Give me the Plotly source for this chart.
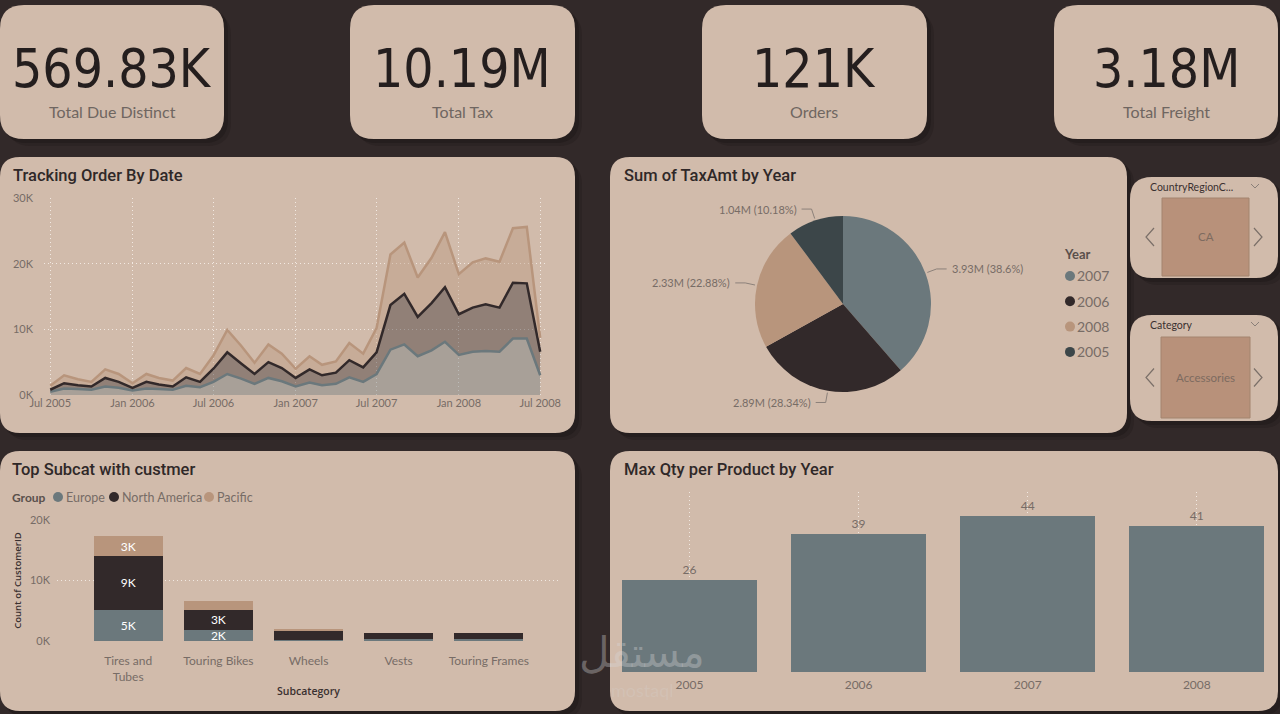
import math
import plotly.graph_objects as go
import pandas as pd

W, H = 1280, 714

# ---------------- data ----------------
kpi_values = ["569.83K", "10.19M", "121K", "3.18M"]
kpi_labels = ["Total Due Distinct", "Total Tax", "Orders", "Total Freight"]

months = pd.date_range("2005-07-01", "2008-07-01", freq="MS")
europe_k = [0.5, 1.0, 0.9, 0.8, 1.3, 1.1, 0.7, 1.0, 0.9, 0.8, 1.4, 1.2,
            2.0, 3.2, 2.5, 1.7, 2.6, 2.1, 1.3, 1.9, 1.5, 1.7, 2.7, 2.0,
            3.2, 6.9, 7.7, 5.9, 6.8, 8.1, 6.1, 6.6, 6.7, 6.6, 8.6, 8.6, 3.0]
north_america_k = [0.3, 0.8, 0.6, 0.5, 1.3, 0.9, 0.4, 1.0, 0.7, 0.5, 1.3, 0.8,
                   2.0, 3.3, 2.3, 1.5, 2.4, 2.0, 1.3, 2.0, 1.5, 1.7, 2.6, 2.2,
                   3.3, 6.8, 7.7, 6.0, 7.2, 8.3, 6.2, 6.7, 7.1, 6.7, 8.5, 8.4, 3.6]
pacific_k = [0.6, 1.2, 0.9, 0.7, 1.3, 1.2, 0.7, 1.2, 1.0, 0.9, 1.4, 1.2,
             2.0, 3.4, 2.7, 1.7, 2.7, 2.2, 1.4, 2.0, 1.6, 1.7, 2.6, 2.1,
             3.7, 7.7, 7.8, 6.0, 6.9, 8.4, 6.1, 6.9, 7.0, 7.0, 8.3, 8.6, 2.1]
area_ticks = [0, 10000, 20000, 30000]
area_ticktext = ["0K", "10K", "20K", "30K"]

pie_years = ["2007", "2006", "2008", "2005"]
pie_tax_m = [3.9333, 2.8878, 2.3315, 1.0373]

groups = ["Europe", "North America", "Pacific"]
subcats = ["Tires and Tubes", "Touring Bikes", "Wheels", "Vests", "Touring Frames"]
subcat_ticktext = ["Tires and<br>Tubes", "Touring Bikes", "Wheels", "Vests", "Touring Frames"]
sub_europe = [5200, 1800, 150, 300, 300]
sub_na = [8800, 3400, 1650, 1000, 1000]
sub_pacific = [3400, 1400, 50, 0, 0]
sub_ticks = [0, 10000, 20000]
sub_ticktext = ["0K", "10K", "20K"]

qty_years = ["2005", "2006", "2007", "2008"]
qty_max = [26, 39, 44, 41]

slicers = [("CountryRegionC...", "CA"), ("Category", "Accessories")]

# ---------------- style ----------------
BG = "#322929"
CARD = "#d1bbab"
C_EU = "#6b787c"
C_NA = "#32292a"
C_PA = "#b8957c"
C_05 = "#3c4649"
TXT = "#776c66"
TITLE = "#2b2424"
FONT = "Lato, Open Sans, sans-serif"
TFONT = "Roboto, Lato, sans-serif"


def X(x):
    return x / W


def Y(y):
    return 1 - y / H


def rr(x0, y0, x1, y1, r, fill, layer="below"):
    p = (f"M {X(x0+r)},{Y(y0)} L {X(x1-r)},{Y(y0)} Q {X(x1)},{Y(y0)} {X(x1)},{Y(y0+r)} "
         f"L {X(x1)},{Y(y1-r)} Q {X(x1)},{Y(y1)} {X(x1-r)},{Y(y1)} "
         f"L {X(x0+r)},{Y(y1)} Q {X(x0)},{Y(y1)} {X(x0)},{Y(y1-r)} "
         f"L {X(x0)},{Y(y0+r)} Q {X(x0)},{Y(y0)} {X(x0+r)},{Y(y0)} Z")
    return dict(type="path", xref="paper", yref="paper", path=p, fillcolor=fill, layer=layer,
                line=dict(width=0))


def note(x, y, text, size, color, family=FONT, xanchor="left", yanchor="middle", weight=None):
    f = dict(family=family, size=size, color=color)
    if weight:
        f["weight"] = weight
    return dict(x=X(x), y=Y(y), xref="paper", yref="paper", text=text, showarrow=False,
                xanchor=xanchor, yanchor=yanchor, font=f)


def dot(x, y, color, size):
    return dict(type="circle", xref="paper", yref="paper", layer="above",
                x0=X(x - size / 2), x1=X(x + size / 2), y0=Y(y + size / 2), y1=Y(y - size / 2),
                fillcolor=color, line=dict(width=0))


shapes = []
annotations = []

cards = [
    (0, 5, 224, 139, 24), (350, 5, 575, 139, 24), (702, 5, 927, 139, 24), (1054, 5, 1278, 139, 24),
    (0, 157, 575, 433, 20), (610, 157, 1127, 433, 20),
    (1130, 177, 1278, 278, 22), (1130, 315, 1278, 421, 22),
    (0, 451, 575, 711, 20), (610, 451, 1278, 711, 20),
]
for (x0, y0, x1, y1, r) in cards:
    shapes.append(rr(x0 + 7, y0 + 7, x1 + 7, y1 + 7, r, "rgba(15,10,10,0.14)"))
    shapes.append(rr(x0 + 3, y0 + 3, x1 + 4, y1 + 4, r, "rgba(15,10,10,0.22)"))
    shapes.append(rr(x0, y0, x1, y1, r, CARD))

# KPI texts
kpi_centers = [112, 462, 814, 1166]
for cx, v, lab in zip(kpi_centers, kpi_values, kpi_labels):
    annotations.append(note(cx, 68, v, 53, "#241e1e", "DejaVu Sans Condensed, Roboto, sans-serif", "center"))
    annotations.append(note(cx, 111, lab, 16, "#6f6661", FONT, "center"))

# chart titles
for tx, ty, t in [(11, 175, "Tracking Order By Date"), (622, 175, "Sum of TaxAmt by Year"),
                  (10, 469, "Top Subcat with custmer"), (622, 469, "Max Qty per Product by Year")]:
    annotations.append(note(tx, ty, t, 16.5, "#2f2828", TFONT, weight=500))

# slicers
slicer_boxes = [(1130, 177, 1278, 278, 1162, 198, 1249, 276), (1130, 315, 1278, 421, 1161, 337, 1250, 418)]
for (title, val), (cx0, cy0, cx1, cy1, bx0, by0, bx1, by1) in zip(slicers, slicer_boxes):
    shapes.append(dict(type="rect", xref="paper", yref="paper", x0=X(bx0), x1=X(bx1), y0=Y(by1), y1=Y(by0),
                       fillcolor="#b8917a", line=dict(color="#a3846f", width=1), layer="below"))
    my = (by0 + by1) / 2
    annotations.append(note((bx0 + bx1) / 2, my, val, 11.5, "#7d6b60", FONT, "center"))
    annotations.append(note(cx0 + 18, cy0 + 10, title, 10.5, "#3a3030", FONT))
    lx = cx0 + 19
    shapes.append(dict(type="path", xref="paper", yref="paper", layer="above",
                       path=f"M {X(lx+5)},{Y(my-9)} L {X(lx-3)},{Y(my)} L {X(lx+5)},{Y(my+9)}",
                       line=dict(color="#7a6f68", width=1.2)))
    rx = cx1 - 19
    shapes.append(dict(type="path", xref="paper", yref="paper", layer="above",
                       path=f"M {X(rx-5)},{Y(my-9)} L {X(rx+3)},{Y(my)} L {X(rx-5)},{Y(my+9)}",
                       line=dict(color="#7a6f68", width=1.2)))
    dx = cx1 - 23
    shapes.append(dict(type="path", xref="paper", yref="paper", layer="above",
                       path=f"M {X(dx-4)},{Y(cy0+7)} L {X(dx)},{Y(cy0+11)} L {X(dx+4)},{Y(cy0+7)}",
                       line=dict(color="#8a7f78", width=1)))

fig = go.Figure()

# ---------------- area chart ----------------
area_series = [(groups[0], europe_k, C_EU, "rgba(107,120,124,0.40)"),
               (groups[1], north_america_k, C_NA, "rgba(50,41,42,0.40)"),
               (groups[2], pacific_k, C_PA, "rgba(184,149,124,0.40)")]
for name, vals, lc, fc in area_series:
    fig.add_trace(go.Scatter(x=months, y=[v * 1000 for v in vals], name=name, mode="lines",
                             stackgroup="one", line=dict(color=lc, width=2.5), fillcolor=fc,
                             xaxis="x", yaxis="y"))

# ---------------- pie ----------------
pie_colors = [C_EU, C_NA, C_PA, C_05]
PCX, PCY, PR = 843, 304, 88
fig.add_trace(go.Pie(labels=pie_years, values=pie_tax_m, sort=False, direction="clockwise", rotation=0,
                     marker=dict(colors=pie_colors, line=dict(width=0)), textinfo="none",
                     domain=dict(x=[X(PCX - PR), X(PCX + PR)], y=[Y(PCY + PR), Y(PCY - PR)])))

# pie detail labels with leader lines (positions derived from the slice angles)
total = sum(pie_tax_m)
cum = 0.0
for v in pie_tax_m:
    frac = v / total
    theta = 2 * math.pi * (cum + frac / 2)
    cum += frac
    s, c = math.sin(theta), math.cos(theta)
    p0 = (PCX + (PR + 2) * s, PCY - (PR + 2) * c)
    p1 = (PCX + (PR + 12) * s, PCY - (PR + 12) * c)
    side = 1 if s >= 0 else -1
    p2 = (p1[0] + 10 * side, p1[1])
    shapes.append(dict(type="path", xref="paper", yref="paper", layer="above",
                       path=f"M {X(p0[0])},{Y(p0[1])} L {X(p1[0])},{Y(p1[1])} L {X(p2[0])},{Y(p2[1])}",
                       line=dict(color="#8c817a", width=1)))
    pct = f"{frac * 100:.2f}".rstrip("0").rstrip(".")
    annotations.append(note(p2[0] + 3 * side, p2[1], f"{v:.2f}M ({pct}%)", 11, TXT, FONT,
                            "left" if side > 0 else "right"))

# pie legend
annotations.append(note(1062, 254, "<b>Year</b>", 13, "#5a504b"))
for i, (yr, col) in enumerate(zip(pie_years, pie_colors)):
    yy = 276 + 25.3 * i
    shapes.append(dot(1070, yy, col, 10))
    annotations.append(note(1075, yy, yr, 14, TXT))

# ---------------- stacked bar ----------------
bar_colors = [C_EU, C_NA, C_PA]
for name, vals, col in zip(groups, [sub_europe, sub_na, sub_pacific], bar_colors):
    txt = [f"{round(v / 1000)}K" if v >= 1700 else "" for v in vals]
    fig.add_trace(go.Bar(x=subcats, y=vals, name=name, marker=dict(color=col, line=dict(width=0)),
                         width=0.767, text=txt, textposition="inside", insidetextanchor="middle",
                         textangle=0, textfont=dict(family=FONT, size=12, color="white"),
                         xaxis="x2", yaxis="y2"))
annotations.append(note(10, 497, "<b>Group</b>", 12, "#5a504b"))
for g, c, mx in zip(groups, bar_colors, [58, 114, 209]):
    shapes.append(dot(mx, 497, c, 10))
    annotations.append(note(mx + 6, 497, g, 12.5, TXT))

# ---------------- max qty bar ----------------
fig.add_trace(go.Bar(x=qty_years, y=qty_max, marker=dict(color=C_EU, line=dict(width=0)), width=0.8,
                     text=[str(v) for v in qty_max], textposition="outside", cliponaxis=False,
                     textfont=dict(family=FONT, size=12, color=TXT),
                     xaxis="x3", yaxis="y3"))

# watermark
annotations.append(note(642, 652, "مستقل", 42, "rgba(215,215,215,0.35)", "DejaVu Sans, Noto Sans", "center"))
annotations.append(note(642, 690, "mostaql", 18, "rgba(215,215,215,0.22)", "Lato", "center"))

grid = "rgba(245,238,232,0.9)"
DOT = "1px,3px"
fig.update_layout(
    width=W, height=H, margin=dict(l=0, r=0, t=0, b=0, autoexpand=False),
    paper_bgcolor=BG, plot_bgcolor="rgba(0,0,0,0)",
    shapes=shapes, annotations=annotations, barmode="stack", showlegend=False,
    uniformtext=dict(minsize=12, mode="show"),
    font=dict(family=FONT, color=TXT),
    xaxis=dict(domain=[X(44), X(546)], type="date", range=["2005-06-17", "2008-07-14"],
               tick0="2005-07-01", dtick="M6", tickformat="%b %Y", showgrid=True, griddash=DOT,
               gridcolor=grid, gridwidth=1, zeroline=False, showline=False, automargin=False,
               tickfont=dict(size=11, color=TXT), anchor="y"),
    yaxis=dict(domain=[Y(395), Y(198)], range=[0, 30000], tickvals=area_ticks, ticktext=area_ticktext,
               showgrid=True, griddash=DOT, gridcolor=grid, zeroline=False, showline=False,
               automargin=False, tickfont=dict(size=11, color=TXT), ticklabelstandoff=10, anchor="x"),
    xaxis2=dict(domain=[X(57), X(560)], range=[-0.79, 4.79], type="category",
                tickvals=subcats, ticktext=subcat_ticktext, showgrid=False, zeroline=False,
                automargin=False, tickfont=dict(size=12, color=TXT), ticklabelstandoff=11, anchor="y2",
                title=dict(text="Subcategory", font=dict(size=10.5, color="#3a3030", family="Open Sans",
                                                         weight=600), standoff=5)),
    yaxis2=dict(domain=[Y(641), Y(520)], range=[0, 20000], tickvals=sub_ticks, ticktext=sub_ticktext,
                showgrid=True, griddash=DOT, gridcolor=grid, zeroline=False, automargin=False,
                tickfont=dict(size=11, color=TXT), ticklabelstandoff=6, anchor="x2",
                title=dict(text="Count of CustomerID", font=dict(size=9.5, color="#3a3030", family="Open Sans",
                                                                 weight=600), standoff=6)),
    xaxis3=dict(domain=[X(610), X(1278)], range=[-0.47, 3.48], type="category", showgrid=True,
                griddash=DOT, gridcolor=grid, zeroline=False, automargin=False,
                tickfont=dict(size=12, color=TXT), anchor="y3", ticklabelstandoff=4),
    yaxis3=dict(domain=[Y(672), Y(492)], range=[0, 50.7], visible=False, showgrid=False, anchor="x3"),
)

fig.write_html("out.html")
